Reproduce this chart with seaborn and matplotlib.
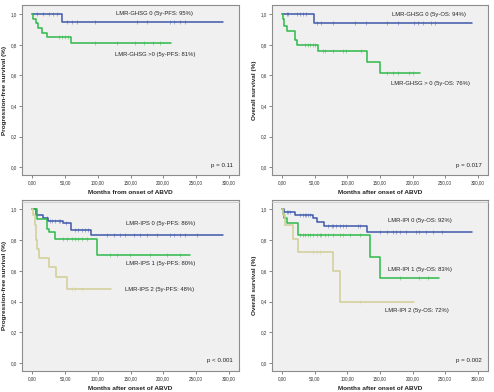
import numpy as np
import pandas as pd
import matplotlib
matplotlib.use("Agg")
import matplotlib.pyplot as plt
import seaborn as sns
from matplotlib.lines import Line2D

sns.set_theme(style="white")
plt.rcParams['font.family'] = ['Arial', 'Liberation Sans', 'DejaVu Sans']

BLUE, GREEN, TAN = "#3E58AC", "#2EB848", "#D3CE97"

# ---------------- Panel 1: PFS by LMR-GHSG ----------------
p1_blue_t = [0, 45, 292]
p1_blue_s = [1.0, 0.95, 0.95]
p1_blue_c = [7.7, 16.8, 26, 32, 38, 52.5, 60, 68, 96, 160, 175, 211, 216, 226, 234]
p1_green_t = [0, 1, 6, 9, 15, 23, 59, 212]
p1_green_s = [1.0, 0.97, 0.94, 0.91, 0.88, 0.85, 0.81, 0.81]
p1_green_c = [40, 45, 50, 55, 96, 129, 157, 170, 185, 195]

# ---------------- Panel 2: OS by LMR-GHSG ----------------
p2_blue_t = [0, 49, 292]
p2_blue_s = [1.0, 0.945, 0.945]
p2_blue_c = [6.6, 9.2, 22, 27, 32, 36, 52.5, 60, 78, 111, 129, 160, 177.5, 203, 208, 216, 228.6, 234]
p2_green_t = [0, 0.5, 2.5, 7.7, 19.4, 22, 55, 130, 149.5, 211]
p2_green_s = [1.0, 0.97, 0.92, 0.89, 0.83, 0.80, 0.76, 0.69, 0.615, 0.615]
p2_green_c = [35, 40, 42, 47, 50, 63, 65, 78, 93, 98, 121, 160, 170, 177.5, 195, 200]

# ---------------- Panel 3: PFS by LMR-IPS ----------------
p3_blue_t = [0, 5.6, 16, 24.5, 46, 59, 89, 292]
p3_blue_s = [1.0, 0.96, 0.94, 0.925, 0.91, 0.865, 0.83, 0.83]
p3_blue_c = [22, 27, 29.6, 34.7, 40, 42, 51.5, 65, 70, 75.5, 80.6, 85.7, 114, 124, 134, 142,
             155, 165, 175, 190, 211, 216, 226, 234, 251.5]
p3_green_t = [0, 6.6, 22, 25, 35, 98.5, 241]
p3_green_s = [1.0, 0.935, 0.87, 0.85, 0.805, 0.70, 0.70]
p3_green_c = [47, 52.6, 60, 65, 70, 75.5, 83, 119, 129, 149.5, 180, 205.6, 226]
p3_tan_t = [0, 1.5, 3.6, 5.6, 7.7, 10.7, 26, 36, 52.5, 120]
p3_tan_s = [1.0, 0.96, 0.90, 0.80, 0.74, 0.685, 0.622, 0.56, 0.48, 0.48]
p3_tan_c = [60, 65, 75.5]

# ---------------- Panel 4: OS by LMR-IPI ----------------
p4_blue_t = [0, 2.5, 19.4, 47.5, 53.6, 64, 130, 292]
p4_blue_s = [1.0, 0.985, 0.96, 0.94, 0.92, 0.89, 0.85, 0.85]
p4_blue_c = [6.6, 9.2, 11.7, 27, 32, 34.7, 37, 40, 42, 70, 75.5, 78, 83, 88, 93, 98.5, 116, 119,
             149.5, 160, 170, 175, 180, 190, 205.6, 210.7, 221, 231, 246]
p4_green_t = [0, 0.5, 2.5, 6.6, 23.5, 135, 150.5, 240]
p4_green_s = [1.0, 0.97, 0.94, 0.91, 0.83, 0.69, 0.555, 0.555]
p4_green_c = [27, 32, 35, 40, 42, 47.5, 52.5, 57.7, 60, 65, 70, 78, 88, 93, 103.6, 119, 180, 210.7, 223.5]
p4_tan_t = [0, 1.5, 3.6, 15.8, 23.5, 78, 89, 203]
p4_tan_s = [1.0, 0.96, 0.90, 0.81, 0.72, 0.60, 0.40, 0.40]
p4_tan_c = [47.5, 52.5, 57.7, 119]

x_ticks = [0, 50, 100, 150, 200, 250, 300]
x_ticklabels = ["0,00", "50,00", "100,00", "150,00", "200,00", "250,00", "300,00"]
y_ticks = [0.0, 0.2, 0.4, 0.6, 0.8, 1.0]
y_ticklabels = ["0,0", "0,2", "0,4", "0,6", "0,8", "1,0"]

panels = [
    dict(rect=(22, 5, 239, 175),
         curves=[(p1_blue_t, p1_blue_s, p1_blue_c, BLUE), (p1_green_t, p1_green_s, p1_green_c, GREEN)],
         labels=[("LMR-GHSG 0 (5y-PFS: 95%)", 186, 1.005), ("LMR-GHSG >0 (5y-PFS: 81%)", 188, 0.737)],
         p="p = 0.11", ylabel="Progression-free survival (%)", xlabel="Months from onset of ABVD"),
    dict(rect=(272, 5, 488, 175),
         curves=[(p2_blue_t, p2_blue_s, p2_blue_c, BLUE), (p2_green_t, p2_green_s, p2_green_c, GREEN)],
         labels=[("LMR-GHSG 0 (5y-OS: 94%)", 225, 1.0), ("LMR-GHSG > 0 (5y-OS: 76%)", 227, 0.55)],
         p="p = 0.017", ylabel="Overall survival (%)", xlabel="Months after onset of ABVD"),
    dict(rect=(22, 200, 239, 371),
         curves=[(p3_blue_t, p3_blue_s, p3_blue_c, BLUE), (p3_green_t, p3_green_s, p3_green_c, GREEN),
                 (p3_tan_t, p3_tan_s, p3_tan_c, TAN)],
         labels=[("LMR-IPS 0 (5y-PFS: 86%)", 196, 0.909), ("LMR-IPS 1 (5y-PFS: 80%)", 196, 0.648),
                 ("LMR-IPS 2 (5y-PFS: 48%)", 194, 0.478)],
         p="p < 0.001", ylabel="Progression-free survival (%)", xlabel="Months after onset of ABVD"),
    dict(rect=(272, 200, 488, 371),
         curves=[(p4_blue_t, p4_blue_s, p4_blue_c, BLUE), (p4_green_t, p4_green_s, p4_green_c, GREEN),
                 (p4_tan_t, p4_tan_s, p4_tan_c, TAN)],
         labels=[("LMR-IPI 0 (5y-OS: 92%)", 212, 0.93), ("LMR-IPI 1 (5y-OS: 83%)", 212, 0.61),
                 ("LMR-IPI 2 (5y-OS: 72%)", 206, 0.343)],
         p="p = 0.002", ylabel="Overall survival (%)", xlabel="Months after onset of ABVD"),
]

W, H = 494, 392
fig = plt.figure(figsize=(W / 100, H / 100), dpi=100)
fig.patch.set_facecolor("white")

for pan in panels:
    x0, y0, x1, y1 = pan["rect"]
    ax = fig.add_axes([x0 / W, 1 - y1 / H, (x1 - x0) / W, (y1 - y0) / H])
    ax.set_facecolor("#F0F0F0")
    for t, s, c, col in pan["curves"]:
        df = pd.DataFrame({"t": t, "s": s})
        sns.lineplot(data=df, x="t", y="s", ax=ax, color=col, lw=1.1,
                     drawstyle="steps-post", estimator=None, sort=False)
        # censor ticks: survival value at censor time from step function
        t_arr = np.array(t)
        s_arr = np.array(s)
        idx = np.searchsorted(t_arr, np.array(c), side="right") - 1
        cdf = pd.DataFrame({"t": c, "s": s_arr[idx]})
        sns.scatterplot(data=cdf, x="t", y="s", ax=ax, marker="|", s=6, color=col,
                        linewidth=0.5, alpha=0.6, zorder=3)
    for txt, lx, ly in pan["labels"]:
        ax.text(lx, ly, txt, fontsize=4.2, ha="center", va="center", color="#222222")
    ax.text(306, 0.015, pan["p"], fontsize=4.4, ha="right", va="center", color="#222222")
    ax.set_xlim(-16, 316)
    ax.set_ylim(-0.05, 1.06)
    ax.set_xticks(x_ticks)
    ax.set_xticklabels(x_ticklabels)
    ax.set_yticks(y_ticks)
    ax.set_yticklabels(y_ticklabels)
    ax.tick_params(axis="both", labelsize=3.3, length=2, width=0.5, color="#555555",
                   labelcolor="#333333", pad=1.5, left=True, bottom=True)
    ax.set_xlabel(pan["xlabel"], fontsize=4.6, fontweight="bold", labelpad=4, color="#222222")
    ax.set_ylabel(pan["ylabel"], fontsize=4.6, fontweight="bold", labelpad=3, color="#222222")
    for sp in ax.spines.values():
        sp.set_color("#8C8C8C")
        sp.set_linewidth(0.8)
    # faint bottom separator line of each SPSS chart panel
    fig.add_artist(Line2D([x0 / W, x1 / W], [1 - (y1 + 27) / H] * 2, color="#CCCCCC", lw=0.6))

fig.savefig("out.png", dpi=100, facecolor="white")
